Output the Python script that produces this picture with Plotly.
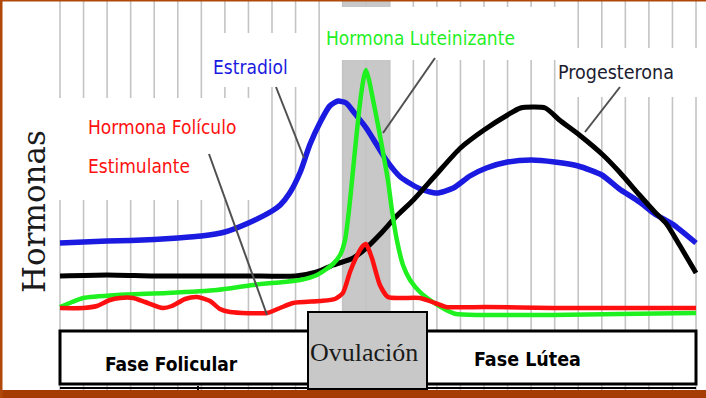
import plotly.graph_objects as go

# ---------------- data (day of cycle, relative hormone level) ----------------
cycle_days = list(range(1, 29))

estradiol_day = [1, 2, 3, 4, 5, 6, 7, 8, 9, 10, 10.35, 10.75, 11.2, 11.6, 12.05, 12.45, 12.8,
                 13.15, 13.5, 14, 14.4, 14.85, 15.45, 16.3, 17, 17.7, 18.4, 19.1, 20, 21, 22,
                 23, 24, 24.75, 25.6, 26.25, 27, 28]
estradiol_lvl = [30.8, 31.2, 31.6, 31.8, 32.2, 32.8, 33.6, 35.2, 38.8, 43.6, 46, 50.8, 59.2,
                 70, 79.2, 85.6, 87.6, 86.8, 82.8, 76.8, 70.8, 64, 57.2, 52.4, 50.8, 52.8,
                 57.6, 60.8, 63.2, 64, 63.2, 61.6, 58, 52.4, 47.2, 42.4, 38.4, 30.8]

progesterona_day = [1, 3, 5, 7, 9, 11, 11.9, 12.6, 13.45, 14, 14.6, 15.25, 16, 16.95, 18, 19,
                    20, 20.55, 21.6, 22.2, 23.1, 24.05, 24.75, 25.6, 26.25, 26.75, 27.3, 28]
progesterona_lvl = [17.6, 18, 17.6, 17.6, 17.6, 17.6, 19.2, 22, 24.8, 28.8, 34.4, 41.2, 48,
                    58, 68.8, 76, 82, 84.8, 84.8, 80, 73.6, 66, 59.2, 50, 43.2, 38.4, 30, 18.8]

fsh_day = [1, 1.98, 2.57, 3.12, 3.55, 4.1, 4.61, 5.37, 5.75, 6.31, 6.82, 7.37, 7.79, 8.22,
           9.79, 10.34, 10.89, 12.04, 12.67, 13.01, 13.31, 13.56, 13.82, 13.99, 14.24, 14.58,
           14.92, 15.43, 16.28, 16.92, 17.39, 19.08, 21.93, 24.77, 28]
fsh_lvl = [4.8, 4.8, 5.6, 8, 8.8, 8.8, 7.2, 4.8, 5.6, 8.4, 9.2, 7.6, 4.4, 3.2, 2.8, 4.8, 6.8,
           7.6, 8.4, 10.8, 19.2, 24.8, 29.2, 30.4, 24.8, 14, 9.2, 8.8, 8.8, 6.8, 5.2, 5.2,
           4.8, 4.8, 4.8]

lh_day = [1, 1.51, 1.98, 3.42, 5.54, 7.66, 9.19, 10.47, 11.19, 11.91, 12.59, 12.89, 13.1,
          13.27, 13.44, 13.61, 13.78, 13.91, 13.99, 14.12, 14.29, 14.5, 14.71, 14.92, 15.09,
          15.3, 15.56, 15.86, 16.28, 16.83, 17.39, 17.81, 18.83, 21.93, 24.77, 28]
lh_lvl = [5.2, 7.2, 8.8, 10, 10.8, 12, 14, 15.2, 16, 18, 22.4, 26, 32, 44, 60, 76, 90, 97.6,
          100, 96, 88, 78, 67.2, 56, 44, 32, 22, 16, 11.2, 7.2, 4, 2.4, 2, 2, 2.4, 2.8]

ovulation_days = [13, 15]

# ---------------- pixel helpers (layout only) ----------------
W, H = 706, 398
X0, DX = 60.0, 23.556          # pixel of day 1, pixels per day
Y0, DY = 320.0, 2.5            # pixel of level 0, pixels per level unit


def X(px):
    return 1 + (px - X0) / DX


def Y(py):
    return (Y0 - py) / DY


def day_px(d):
    return X0 + (d - 1) * DX


fig = go.Figure()

LABEL_FONT = "Liberation Sans Narrow, DejaVu Sans Condensed, Arial Narrow, Liberation Sans, sans-serif"
SERIF = "Liberation Serif, DejaVu Serif, serif"

shapes = []


def rect(x0, y0, x1, y1, fill, line_color=None, lw=0, layer="below"):
    shapes.append(dict(type="rect", xref="x", yref="y", x0=X(x0), x1=X(x1), y0=Y(y0), y1=Y(y1),
                       fillcolor=fill, line=dict(color=line_color or fill, width=lw), layer=layer))


def seg(x0, y0, x1, y1, color, lw, layer="below"):
    shapes.append(dict(type="line", xref="x", yref="y", x0=X(x0), x1=X(x1), y0=Y(y0), y1=Y(y1),
                       line=dict(color=color, width=lw), layer=layer))


# ovulation band
rect(day_px(ovulation_days[0]), 0, day_px(ovulation_days[1]), 312, "#c8c8c8")
# grid lines
for d in cycle_days:
    px = day_px(d)
    seg(px, 0, px, 390, "#c4c4c4", 1.6)
# white masks behind labels
rect(50, 98, 256, 200, "white")
rect(205, 33, 300, 87, "white")
rect(321, 7, 560, 60, "white")
rect(560, 48, 700, 97, "white")

# series
series = [
    (estradiol_day, estradiol_lvl, "#1a1ae0", 5.5, "Estradiol"),
    (progesterona_day, progesterona_lvl, "#000000", 5, "Progesterona"),
    (lh_day, lh_lvl, "#1ff01f", 4.5, "Hormona Luteinizante"),
    (fsh_day, fsh_lvl, "#ff1010", 4.5, "Hormona Folículo Estimulante"),
]
for xs, ys, col, w, name in series:
    fig.add_trace(go.Scatter(x=xs, y=ys, mode="lines", name=name,
                             line=dict(color=col, width=w, shape="spline", smoothing=0.6),
                             hoverinfo="skip", showlegend=False))

# leader lines
seg(276, 87, 304, 158, "#505050", 2, "above")
seg(209, 154, 267, 315, "#505050", 2, "above")
seg(435, 58, 383, 133, "#505050", 2, "above")
seg(620, 87, 585, 132, "#505050", 2, "above")

# phase boxes
seg(60, 388, 696, 388, "#000000", 2, "above")
seg(198, 386, 198, 391, "#000000", 2, "above")
rect(60, 331, 696, 384, "white", "#000000", 3, "above")
rect(308, 312, 427, 389, "#c8c8c8", "#000000", 2, "above")

# slide frame
rect(-2, 390, 708, 400, "#a43c03", layer="above")
rect(-2, -2, 2.5, 400, "#b0480a", layer="above")
rect(-2, -2, 708, 1.5, "#b0480a", layer="above")

annotations = []


def label(px, py, text, color, size, family=LABEL_FONT, xanchor="center", angle=0):
    annotations.append(dict(x=X(px), y=Y(py), xref="x", yref="y", text=text, showarrow=False,
                            xanchor=xanchor, yanchor="middle", textangle=angle,
                            font=dict(family=family, size=size, color=color)))


label(250, 67, "Estradiol", "#1a1ae0", 19)
label(420, 38, "Hormona Luteinizante", "#1ff01f", 19)
label(616, 72, "Progesterona", "#1c1c30", 19.5)
label(86, 127, "Hormona Folículo", "#ff1010", 19, xanchor="left")
label(86, 166, "Estimulante", "#ff1010", 19, xanchor="left")
label(171, 364, "<b>Fase Folicular</b>", "#000000", 19)
label(527, 359, "<b>Fase Lútea</b>", "#000000", 19.5)
label(364, 352, "Ovulación", "#1a1a1a", 26, family=SERIF)
label(34, 212, "Hormonas", "#1a1a1a", 31, family="DejaVu Serif, Liberation Serif, serif", angle=-90)

fig.update_layout(
    width=W, height=H,
    margin=dict(l=0, r=0, t=0, b=0),
    paper_bgcolor="white", plot_bgcolor="white",
    xaxis=dict(range=[X(0), X(W)], visible=False, fixedrange=True),
    yaxis=dict(range=[Y(H), Y(0)], visible=False, fixedrange=True),
    shapes=shapes, annotations=annotations,
    showlegend=False,
)

fig.write_html("out.html", config={"displayModeBar": False})
